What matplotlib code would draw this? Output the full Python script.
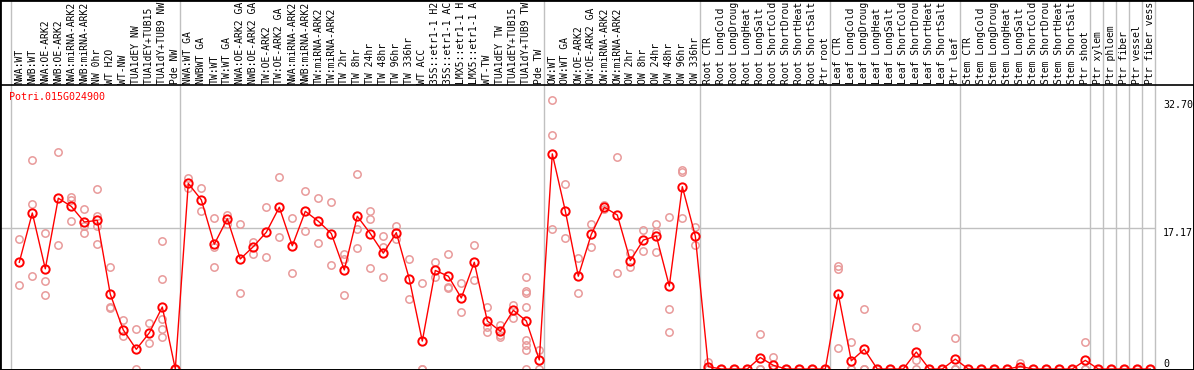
import matplotlib
matplotlib.use("Agg")
import matplotlib.pyplot as plt
import matplotlib.transforms as mtransforms
from matplotlib.patches import Rectangle

gene = "Potri.015G024900"

labels = [
    "NWA:WT", "NWB:WT", "NWA:OE-ARK2", "NWB:OE-ARK2", "NWA:miRNA-ARK2", "NWB:miRNA-ARK2",
    "NW 0hr", "WT H2O", "WT-NW", "TUA1dEY NW", "TUA1dEY+TUB15 NW", "TUA1dY+TUB9 NW", "Pde NW",
    "NWA:WT GA", "NWBWT GA", "TW:WT", "TW:WT GA", "NWA:OE-ARK2 GA", "NWB:OE-ARK2 GA",
    "TW:OE-ARK2", "TW:OE-ARK2 GA", "NWA:miRNA-ARK2", "NWB:miRNA-ARK2", "TW:miRNA-ARK2",
    "TW:miRNA-ARK2", "TW 2hr", "TW 8hr", "TW 24hr", "TW 48hr", "TW 96hr", "TW 336hr", "WT ACC",
    "35S::etr1-1 H2O", "35S::etr1-1 ACC", "LMX5::etr1-1 H2O", "LMX5::etr1-1 ACC", "WT-TW",
    "TUA1dEY TW", "TUA1dEY+TUB15 TW", "TUA1dY+TUB9 TW", "Pde TW",
    "OW:WT", "OW:WT GA", "OW:OE-ARK2", "OW:OE-ARK2 GA", "OW:miRNA-ARK2", "OW:miRNA-ARK2",
    "OW 2hr", "OW 8hr", "OW 24hr", "OW 48hr", "OW 96hr", "OW 336hr",
    "Root CTR", "Root LongCold", "Root LongDrought", "Root LongHeat", "Root LongSalt",
    "Root ShortCold", "Root ShortDrought", "Root ShortHeat", "Root ShortSalt", "Ptr root",
    "Leaf CTR", "Leaf LongCold", "Leaf LongDrought", "Leaf LongHeat", "Leaf LongSalt",
    "Leaf ShortCold", "Leaf ShortDrought", "Leaf ShortHeat", "Leaf ShortSalt", "Ptr leaf",
    "Stem CTR", "Stem LongCold", "Stem LongDrought", "Stem LongHeat", "Stem LongSalt",
    "Stem ShortCold", "Stem ShortDrought", "Stem ShortHeat", "Stem ShortSalt", "Ptr shoot",
    "Ptr xylem", "Ptr phloem", "Ptr fiber", "Ptr vessel", "Ptr fiber vessel",
]

group_sizes = [13, 28, 12, 10, 10, 10, 1, 1, 1, 1, 1]

means = [
    13.0, 19.0, 12.2, 20.8, 19.8, 17.9, 18.1, 9.1, 4.75, 2.4, 4.4, 7.55, 0.0,
    22.6, 20.6, 15.2, 18.3, 13.4, 14.9, 16.65, 19.7, 15.0, 19.2, 18.0, 16.5, 12.06,
    18.6, 16.5, 14.1, 16.6, 10.96, 3.4, 12.0, 11.3, 8.65, 13.0, 5.85, 4.6, 7.15, 5.85, 1.1,
    26.2, 19.25, 11.3, 16.4, 19.7, 18.75, 13.2, 15.7, 16.2, 10.1, 22.2, 16.2,
    0.28, 0, 0, 0, 1.4, 0.45, 0, 0, 0, 0,
    9.1, 1.0, 2.4, 0, 0, 0, 2.07, 0, 0, 1.2,
    0, 0, 0, 0, 0.3, 0, 0, 0, 0, 1.05,
    0, 0, 0, 0, 0,
]

replicates = [
    [15.8, 10.2], [25.5, 20.1, 11.3], [16.6, 10.7, 9.0], [26.4, 15.1],
    [21.0, 20.6, 18.0], [19.5, 17.4, 16.6], [21.9, 18.6, 17.4, 15.2], [12.4, 7.6, 7.4],
    [6.0, 4.0], [4.9, 0.0], [5.6, 3.2], [15.55, 10.9, 6.1, 4.9, 3.9], [0, 0],
    [23.3, 22.0], [22.0, 19.2], [18.4, 14.8, 12.4], [18.8, 17.7], [17.6, 9.25],
    [15.5, 14.0], [19.7, 13.6], [23.35, 16.1], [18.35, 11.7], [21.7, 16.8],
    [20.8, 15.3], [20.3, 12.7], [14.0, 13.4, 9.0], [23.75, 17.1, 14.7],
    [19.2, 18.3, 12.3], [16.2, 14.9, 11.2], [17.45, 15.8], [13.4, 8.5], [10.5, 0, 0],
    [13.0, 11.2], [14.0, 9.95, 9.9], [10.5, 6.9], [15.1, 10.8], [7.55, 5.15, 4.55],
    [5.3, 4.2, 3.9], [7.8, 6.2], [11.2, 9.5, 9.3, 7.5, 3.5, 2.9, 2.3, 0], [2.3, 0],
    [32.7, 28.5, 17.0], [22.5, 15.9], [13.5, 9.2], [17.7, 14.9], [20.0, 19.45],
    [25.8, 11.65], [14.1, 12.4], [16.9, 14.4], [17.7, 16.7, 14.2], [18.5, 7.3, 4.5],
    [24.2, 24.0, 18.35], [17.3, 15.1],
    [0.85, 0, 0], [0, 0], [0, 0], [0, 0], [4.26, 0, 0], [1.5, 0, 0], [0, 0], [0, 0],
    [0, 0], [0, 0],
    [12.6, 12.2, 2.6], [3.25, 0, 0], [7.3, 0, 0], [0, 0], [0, 0], [0, 0], [5.1, 1.1, 0],
    [0, 0], [0, 0], [3.8, 0, 0],
    [0, 0], [0, 0], [0, 0], [0, 0], [0.77, 0, 0], [0, 0], [0, 0], [0, 0], [0, 0],
    [3.3, 0, 0],
    [0, 0], [0, 0], [0, 0], [0, 0], [0, 0],
]

yticks = [0, 17.17, 32.70]
ytick_labels = ["0", "17.17", "32.70"]

W, H = 1194, 370
top_px = 85
fig = plt.figure(figsize=(W / 100, H / 100), dpi=100)
ax = fig.add_axes([0, 0, 1, (H - top_px) / H])

mono = "DejaVu Sans Mono"
fs = 7.0

x = list(range(len(means)))
for i, reps in enumerate(replicates):
    ax.plot([i] * len(reps), reps, linestyle="none", marker="o", ms=5.3,
            mfc="none", mec="#e89a9a", mew=1.1, zorder=2, clip_on=False)
ax.plot(x, means, color="red", lw=1.0, zorder=3, clip_on=False)
ax.plot(x, means, linestyle="none", marker="o", ms=6.0, mfc="none",
        mec="red", mew=1.4, zorder=4, clip_on=False)

ax.set_xlim(-19.3 / 13, (W - 19.3) / 13)
ax.set_ylim(-1 / 8.212, (369 - top_px) / 8.212)
ax.set_xticks([])
ax.set_yticks([])
for s in ax.spines.values():
    s.set_color("black")
    s.set_linewidth(1.2)

# group separators through labels and plot
seps = [-1 + 0.385]
pos = -1
for g in group_sizes:
    pos += g
    seps.append(pos + 0.385)
ext = H / (H - top_px)
for sx in seps:
    ax.axvline(sx, ymin=0, ymax=ext, color="#c0c0c0", lw=1.0, zorder=1, clip_on=False)

ax.hlines(yticks[1], ax.get_xlim()[0], seps[-1], color="#c0c0c0", lw=1.0, zorder=1)

# column labels, cut to what fits above the plot (as in the original)
trans = mtransforms.blended_transform_factory(ax.transData, ax.transAxes)
for i, lab in enumerate(labels):
    ax.text(i, 1 + 1.5 / (H - top_px), lab[:14], transform=trans, rotation=90,
            ha="center", va="bottom", family=mono, fontsize=fs, clip_on=False)

xl = (1163 - 19.3) / 13
for v, t in zip(yticks, ytick_labels):
    ax.text(xl, v, t, ha="left", va="bottom" if v == 0 else "top",
            family=mono, fontsize=7.2)

fig.text(9 / W, 1 - 97 / H, gene, color="red", family=mono, fontsize=7.2,
         ha="left", va="center")

fig.patches.append(Rectangle((0, 0), 1, 1, transform=fig.transFigure, fill=False,
                             ec="black", lw=2.0))

fig.savefig("out.png", dpi=100)
